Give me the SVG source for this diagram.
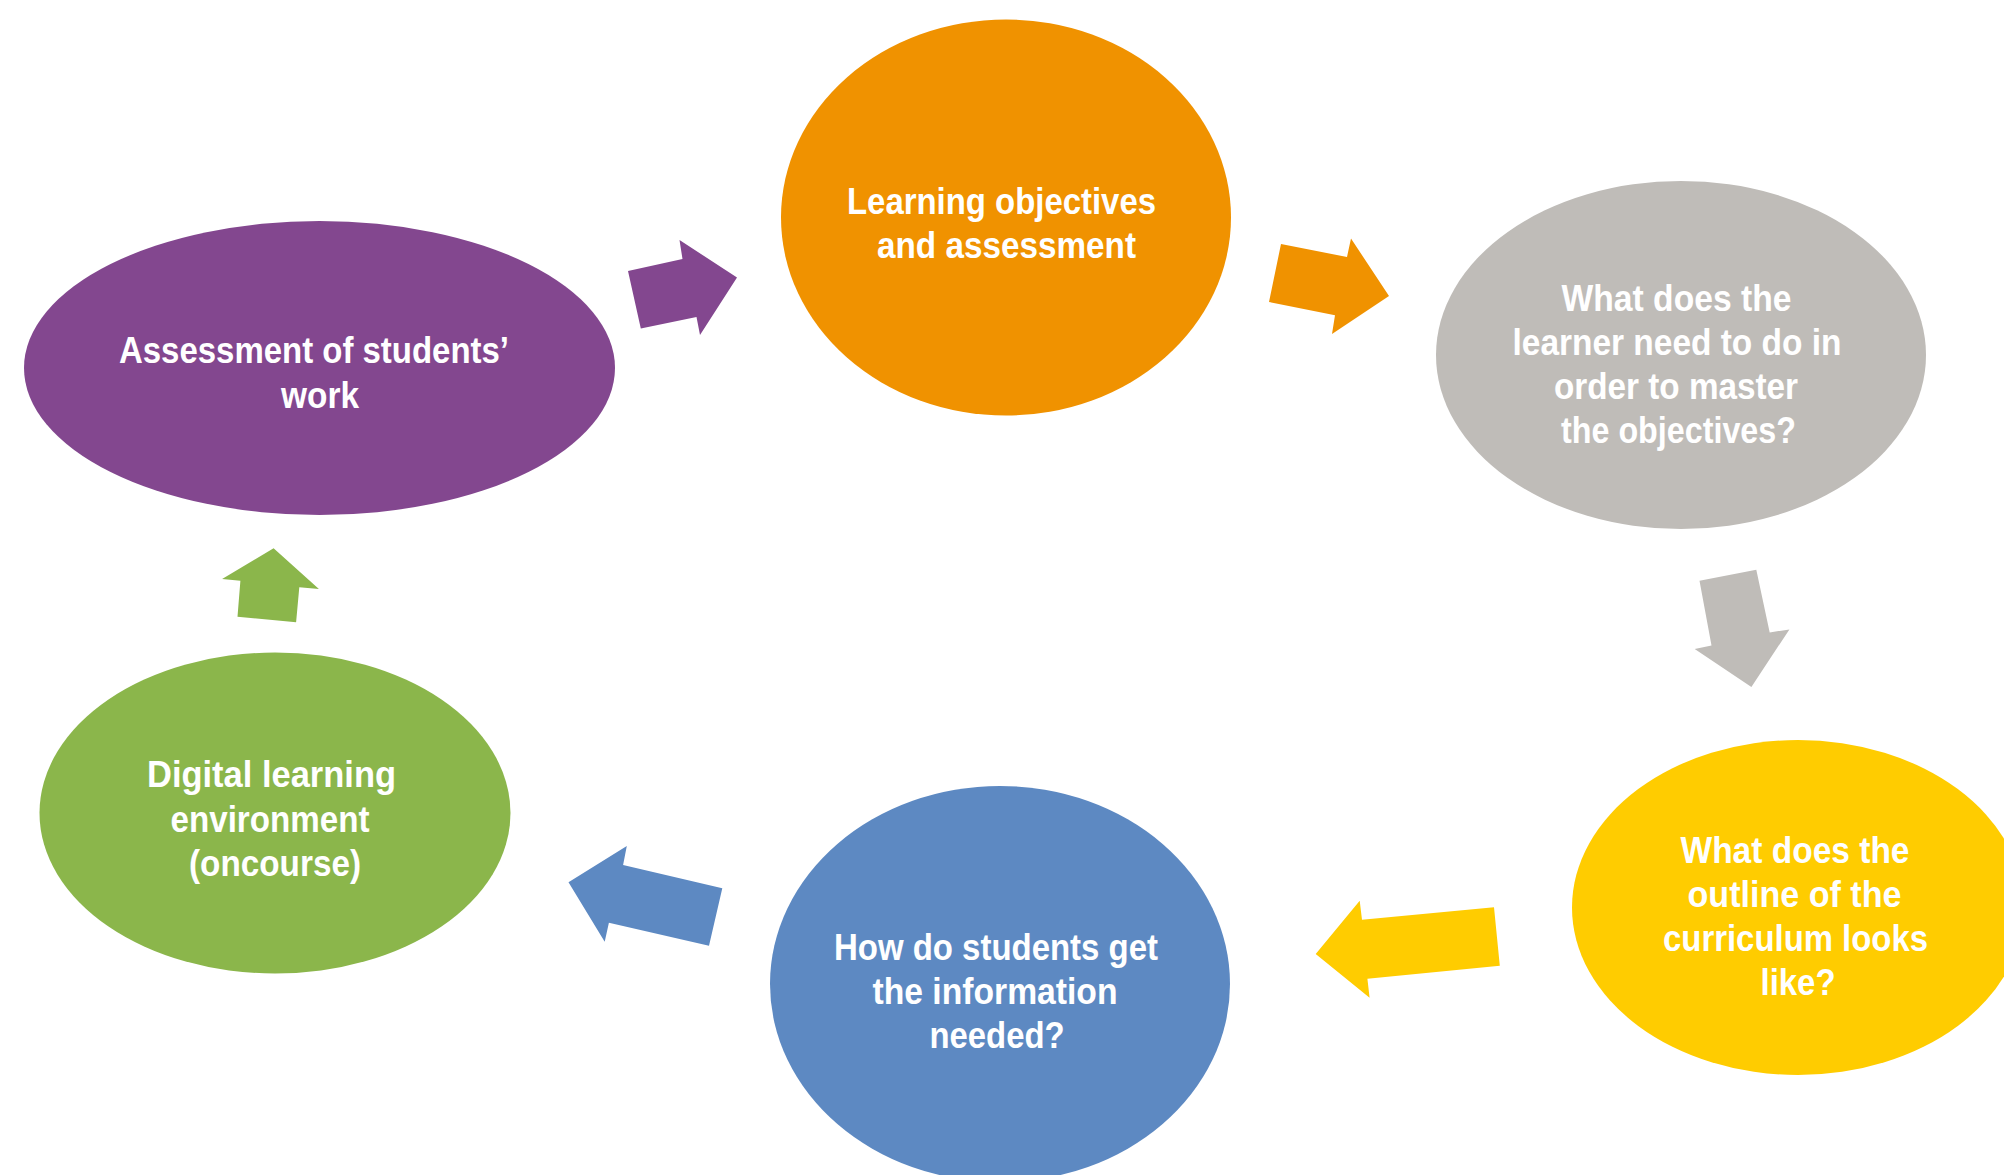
<svg xmlns="http://www.w3.org/2000/svg" width="2004" height="1175" viewBox="0 0 2004 1175">
  <style>
    .lbl { font-family: "Liberation Sans", Arial, "DejaVu Sans", sans-serif; font-weight: bold; font-size: 37px; fill: #ffffff; }
    .purple { fill: #83478F; }
    .orange { fill: #F09200; }
    .gray { fill: #BFBCB8; }
    .yellow { fill: #FFCC00; }
    .blue { fill: #5D89C2; }
    .green { fill: #8BB64B; }
  </style>
  <rect x="0" y="0" width="2004" height="1175" fill="#ffffff"/>

  <g id="connectors">
    <polygon id="arrow-purple-orange" class="purple" points="628,271 682.5,259 679.5,240 737,277.5 700,335 696.5,317 640.8,328.5"/>
    <polygon id="arrow-orange-gray" class="orange" points="1281,244 1347,257 1351,238.5 1389,296 1332,334 1335,315.3 1269,302"/>
    <polygon id="arrow-gray-yellow" class="gray" points="1699.5,580.8 1756.3,569.8 1769.7,632.4 1789.4,629.4 1751.4,686.9 1694.7,649 1711.5,645.5"/>
    <polygon id="arrow-yellow-blue" class="yellow" points="1494,907.3 1499.8,965.7 1367.4,978.7 1369.6,997.7 1315.7,954 1359.7,900.7 1362,919.7"/>
    <polygon id="arrow-blue-green" class="blue" points="722.3,888.3 709,945.7 608.9,922.7 604.7,941.7 568.5,882.3 626.8,846 623.1,865"/>
    <polygon id="arrow-green-purple" class="green" points="237.5,616.7 240.4,580.7 222.1,579 273.6,548.3 318.9,589 299.3,587.3 296.1,622.3"/>
  </g>

  <g id="node-assessment">
    <ellipse class="purple" cx="319.5" cy="368" rx="295.5" ry="147"/>
    <text class="lbl" x="119" y="363.3" textLength="390" lengthAdjust="spacingAndGlyphs">Assessment of students’</text>
    <text class="lbl" x="281" y="408.3" textLength="78" lengthAdjust="spacingAndGlyphs">work</text>
  </g>

  <g id="node-objectives">
    <ellipse class="orange" cx="1006" cy="217.5" rx="225" ry="198"/>
    <text class="lbl" x="847" y="214" textLength="309" lengthAdjust="spacingAndGlyphs">Learning objectives</text>
    <text class="lbl" x="877" y="258.3" textLength="259" lengthAdjust="spacingAndGlyphs">and assessment</text>
  </g>

  <g id="node-learner">
    <ellipse class="gray" cx="1681" cy="355" rx="245" ry="174"/>
    <text class="lbl" x="1561.5" y="310.7" textLength="230" lengthAdjust="spacingAndGlyphs">What does the</text>
    <text class="lbl" x="1512.5" y="354.5" textLength="329" lengthAdjust="spacingAndGlyphs">learner need to do in</text>
    <text class="lbl" x="1554" y="398.5" textLength="244" lengthAdjust="spacingAndGlyphs">order to master</text>
    <text class="lbl" x="1561" y="443.3" textLength="235" lengthAdjust="spacingAndGlyphs">the objectives?</text>
  </g>

  <g id="node-curriculum">
    <ellipse class="yellow" cx="1798" cy="907.5" rx="226" ry="167.5"/>
    <text class="lbl" x="1680.5" y="863.3" textLength="229" lengthAdjust="spacingAndGlyphs">What does the</text>
    <text class="lbl" x="1687.5" y="907.3" textLength="214" lengthAdjust="spacingAndGlyphs">outline of the</text>
    <text class="lbl" x="1663" y="950.7" textLength="265" lengthAdjust="spacingAndGlyphs">curriculum looks</text>
    <text class="lbl" x="1760.5" y="995" textLength="75" lengthAdjust="spacingAndGlyphs">like?</text>
  </g>

  <g id="node-information">
    <ellipse class="blue" cx="1000" cy="984" rx="230" ry="198"/>
    <text class="lbl" x="834" y="960" textLength="324" lengthAdjust="spacingAndGlyphs">How do students get</text>
    <text class="lbl" x="872.5" y="1004.3" textLength="245" lengthAdjust="spacingAndGlyphs">the information</text>
    <text class="lbl" x="929.5" y="1048.3" textLength="135" lengthAdjust="spacingAndGlyphs">needed?</text>
  </g>

  <g id="node-digital">
    <ellipse class="green" cx="275" cy="813" rx="235.5" ry="160.5"/>
    <text class="lbl" x="147" y="786.7" textLength="249" lengthAdjust="spacingAndGlyphs">Digital learning</text>
    <text class="lbl" x="170.5" y="831.7" textLength="199" lengthAdjust="spacingAndGlyphs">environment</text>
    <text class="lbl" x="189" y="876" textLength="172" lengthAdjust="spacingAndGlyphs">(oncourse)</text>
  </g>
</svg>
